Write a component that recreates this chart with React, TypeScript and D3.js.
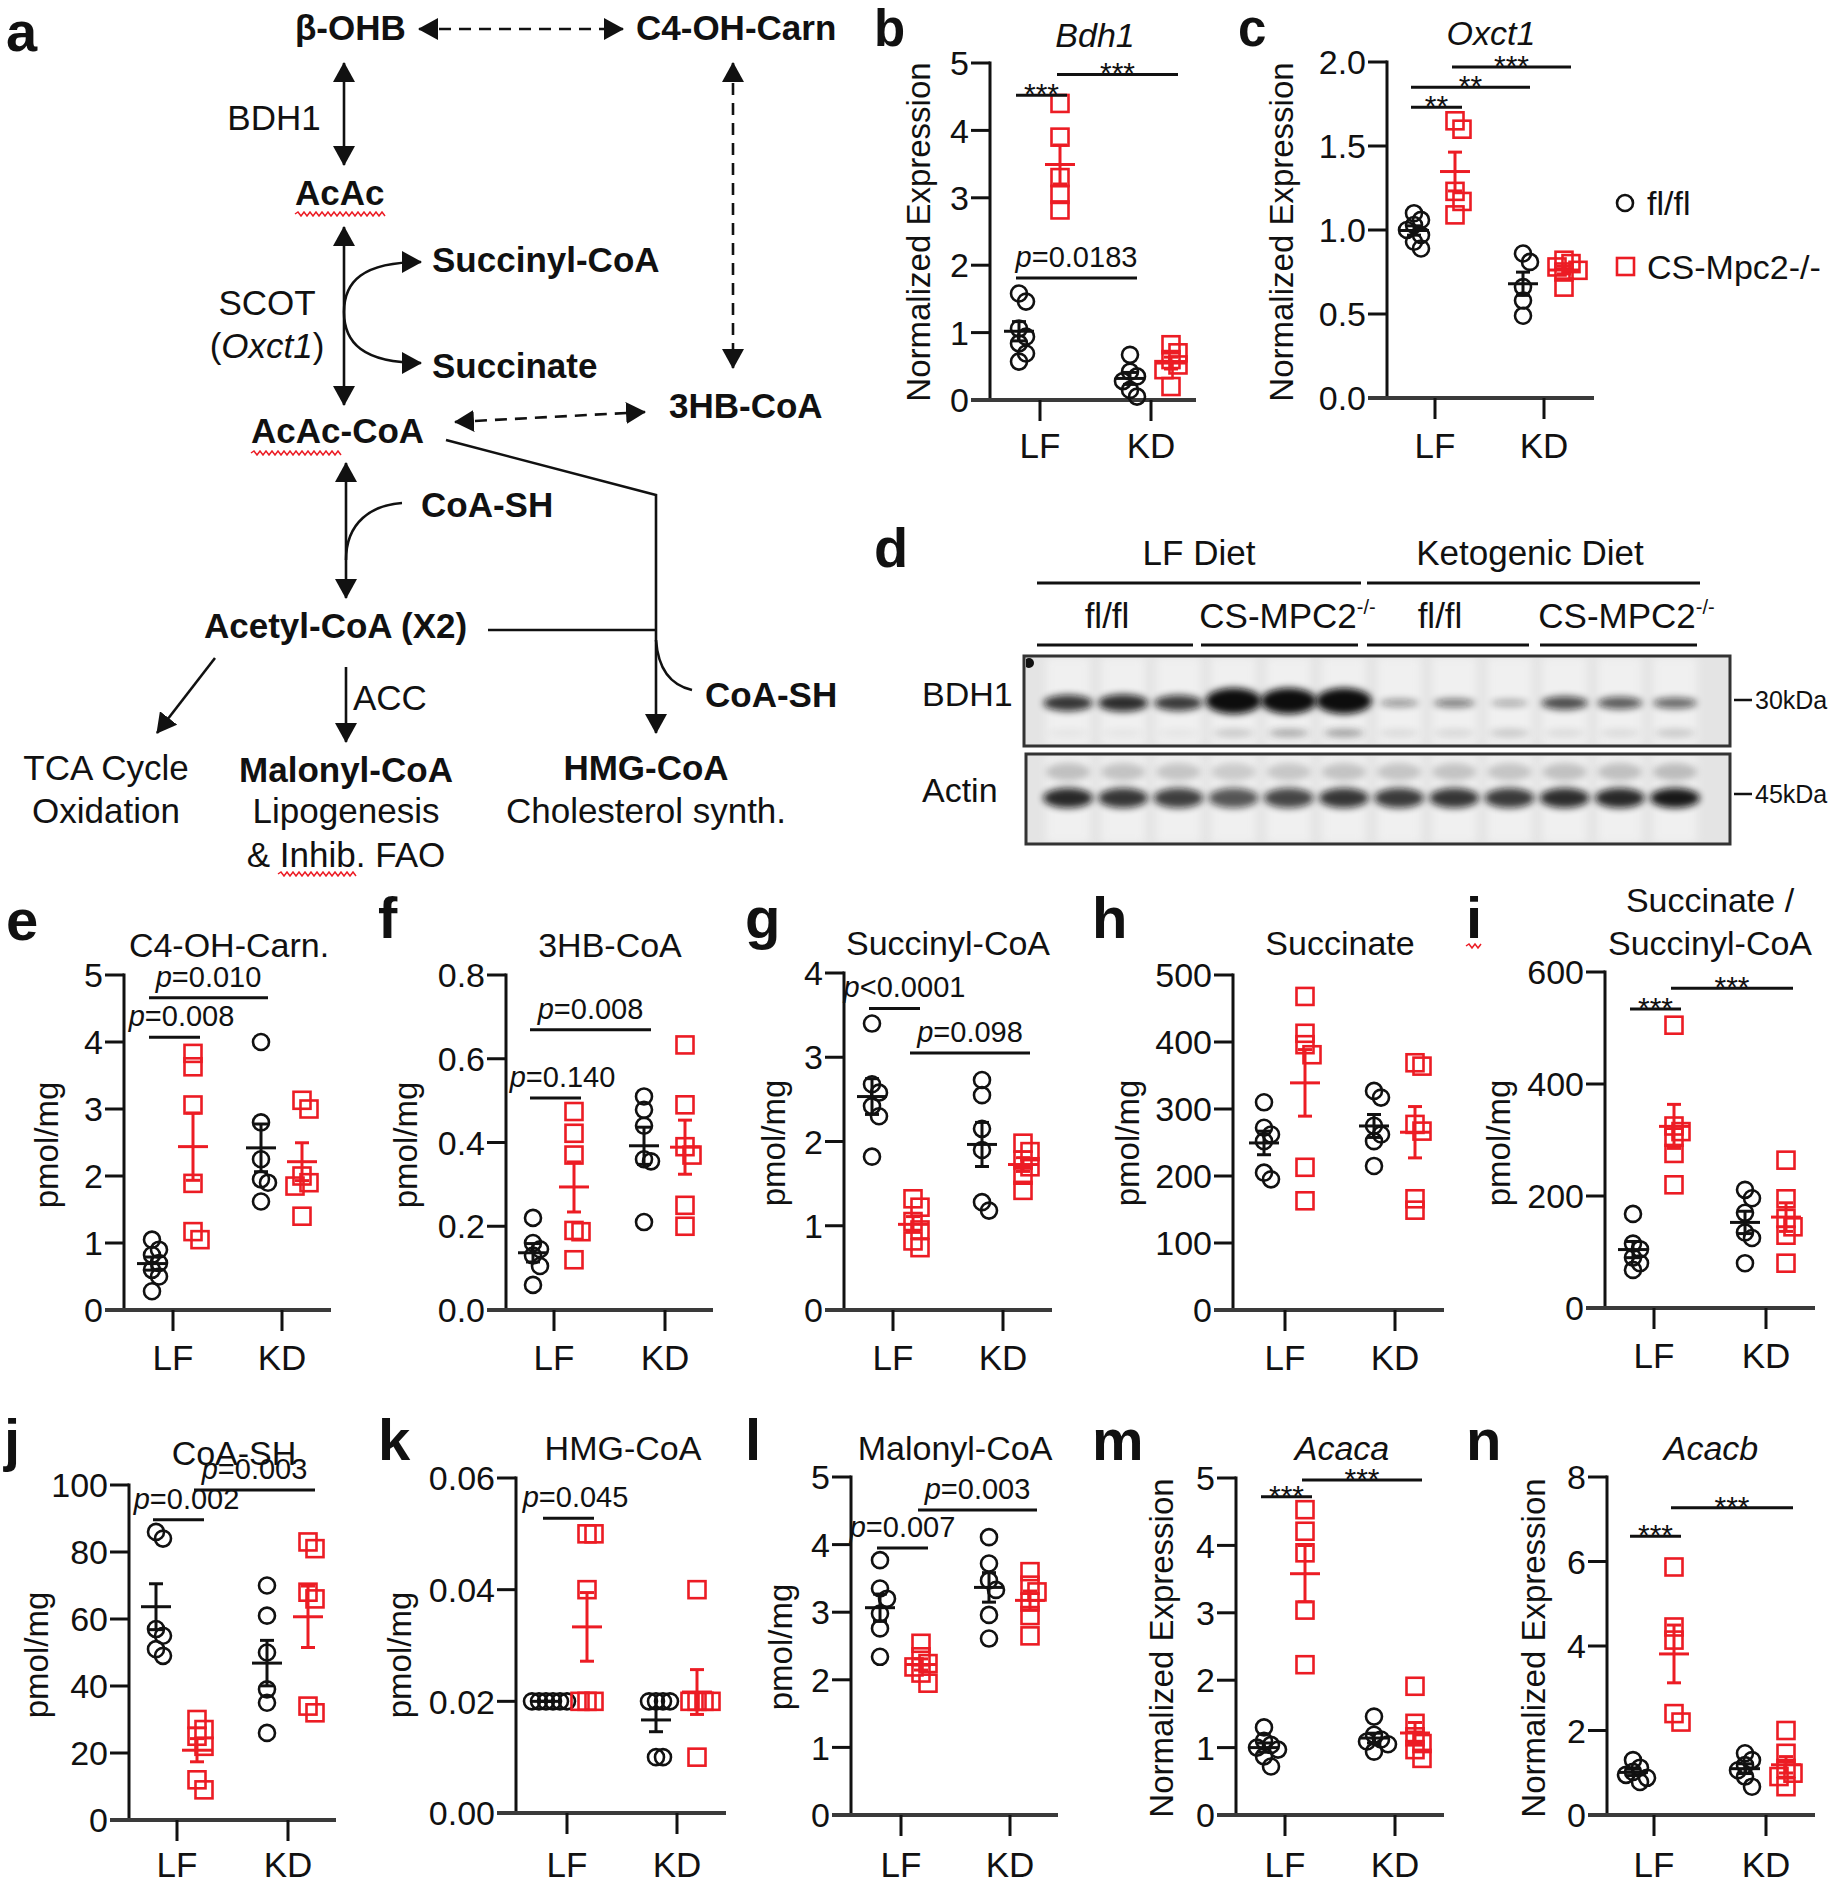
import React from 'react';
import * as d3 from 'd3';

const FONT = "'Liberation Sans', Arial, Helvetica, sans-serif";
const RED = '#ec1c24';
const INK = '#111111';

// ---------------- data ----------------
// group order in every panel: fl/fl LF, CS-Mpc2-/- LF, fl/fl KD, CS-Mpc2-/- KD
const xCategories = ['LF', 'KD'];
const legendLabels = ['fl/fl', 'CS-Mpc2-/-'];

const bdh1 = [[1.58, 1.46, 1.06, 0.94, 0.84, 0.69, 0.57], [4.4, 3.9, 3.3, 3.05, 2.82], [0.67, 0.42, 0.35, 0.28, 0.15, 0.05], [0.82, 0.7, 0.6, 0.52, 0.45, 0.2]];
const oxct1 = [[1.1, 1.06, 1.03, 1.0, 0.97, 0.93, 0.89], [1.65, 1.6, 1.23, 1.17, 1.09], [0.86, 0.81, 0.66, 0.58, 0.49], [0.82, 0.8, 0.78, 0.76, 0.75, 0.66]];
const c4ohCarn = [[1.05, 0.9, 0.82, 0.7, 0.6, 0.5, 0.28], [3.83, 3.63, 3.06, 1.89, 1.17, 1.05], [4.0, 2.8, 2.25, 1.95, 1.9, 1.62], [3.13, 3.0, 2.0, 1.9, 1.85, 1.4]];
const hb3CoA = [[0.22, 0.16, 0.145, 0.13, 0.105, 0.06], [0.474, 0.422, 0.37, 0.19, 0.187, 0.12], [0.51, 0.478, 0.44, 0.36, 0.355, 0.21], [0.633, 0.49, 0.39, 0.37, 0.25, 0.2]];
const succinylCoA = [[3.4, 2.68, 2.58, 2.42, 2.3, 1.82], [1.32, 1.22, 1.05, 0.95, 0.82, 0.74], [2.73, 2.55, 2.15, 1.9, 1.28, 1.18], [1.98, 1.88, 1.78, 1.7, 1.6, 1.42]];
const succinate = [[310, 272, 262, 252, 205, 195], [468, 413, 396, 381, 213, 163], [327, 317, 275, 262, 252, 215], [369, 364, 277, 267, 166, 149]];
const succRatio = [[168, 115, 105, 90, 80, 68], [505, 325, 315, 305, 276, 220], [211, 196, 170, 135, 125, 80], [264, 195, 160, 145, 130, 80]];
const coaSH = [[86, 84, 57, 55, 51, 49], [30, 27, 25, 22, 12, 9], [70, 61, 50, 39, 35, 26], [83, 81, 68, 66, 34, 32]];
const hmgCoA = [[0.02, 0.02, 0.02, 0.02, 0.02, 0.02], [0.05, 0.05, 0.04, 0.02, 0.02, 0.02], [0.02, 0.02, 0.02, 0.02, 0.01, 0.01], [0.04, 0.02, 0.02, 0.02, 0.02, 0.01]];
const malonylCoA = [[3.77, 3.35, 3.2, 2.98, 2.76, 2.34], [2.54, 2.34, 2.24, 2.19, 2.1, 1.95], [4.11, 3.72, 3.47, 3.33, 2.96, 2.61], [3.6, 3.4, 3.3, 3.15, 2.95, 2.65]];
const acaca = [[1.3, 1.1, 1.04, 1.0, 0.97, 0.87, 0.72], [4.53, 4.21, 3.89, 3.04, 2.23], [1.46, 1.19, 1.12, 1.09, 1.05, 0.94], [1.91, 1.36, 1.16, 1.06, 0.97, 0.84]];
const acacb = [[1.3, 1.12, 1.02, 0.95, 0.88, 0.78], [5.87, 4.45, 4.14, 2.4, 2.2], [1.46, 1.3, 1.18, 1.06, 0.91, 0.67], [2.0, 1.46, 1.1, 0.99, 0.91, 0.67]];

const ticks5 = [0, 1, 2, 3, 4, 5];
const ticks2 = [0, 0.5, 1.0, 1.5, 2.0];
const ticks08 = [0, 0.2, 0.4, 0.6, 0.8];
const ticks4 = [0, 1, 2, 3, 4];
const ticks500 = [0, 100, 200, 300, 400, 500];
const ticks600 = [0, 200, 400, 600];
const ticks100 = [0, 20, 40, 60, 80, 100];
const ticks006 = [0, 0.02, 0.04, 0.06];
const ticks8 = [0, 2, 4, 6, 8];

// western blot band intensities (12 lanes)
const blotLaneGroups = ['fl/fl', 'CS-MPC2', 'fl/fl', 'CS-MPC2'];
const bdh1Band = [0.72, 0.76, 0.7, 1.0, 1.0, 1.0, 0.3, 0.4, 0.22, 0.62, 0.56, 0.5];
const bdh1Lower = [0.05, 0.05, 0.05, 0.2, 0.35, 0.4, 0.1, 0.12, 0.2, 0.1, 0.1, 0.2];
const actinBand = [0.88, 0.82, 0.78, 0.68, 0.75, 0.82, 0.8, 0.82, 0.8, 0.86, 0.88, 0.95];

// ---------------- helpers ----------------
type Sig = { from: number; to: number; v: number; label: string; dx?: number };
type PanelCfg = {
  letter: string; letterX: number; letterY: number; letterSize?: number;
  title: string[]; italic?: boolean; titleX: number; titleY: number[];
  ylabel: string; ylabelX: number; ylabelY: number;
  axisX: number; y0: number; yTop: number; max: number; ticks: number[]; fmt: string;
  lfX: number; kdX: number; xEnd: number; labelY: number;
  data: number[][]; sigs: Sig[]; squiggleLetter?: boolean;
};

function squiggle(x1: number, x2: number, y: number) {
  let d = `M${x1},${y}`;
  let up = true;
  for (let x = x1 + 3; x <= x2; x += 3) {
    d += ` L${x},${up ? y - 2 : y + 2}`;
    up = !up;
  }
  return d;
}

function dodge(vals: number[], sc: (v: number) => number) {
  const placed: { y: number; o: number }[] = [];
  const step = 7;
  const cands = [0, step, -step, 2 * step, -2 * step, 3 * step, -3 * step];
  return vals.map((v) => {
    const y = sc(v);
    let off = 0;
    for (const c of cands) {
      if (placed.every((p) => Math.abs(p.y - y) >= 11 || Math.abs(p.o - c) >= step)) { off = c; break; }
    }
    placed.push({ y, o: off });
    return { y, off };
  });
}

function PText({ label }: { label: string }) {
  if (label.startsWith('p')) {
    return (<><tspan fontStyle="italic">p</tspan>{label.slice(1)}</>);
  }
  return <>{label}</>;
}

function ScatterPanel({ cfg }: { cfg: PanelCfg }) {
  const y = d3.scaleLinear().domain([0, cfg.max]).range([cfg.y0, cfg.yTop]);
  const gx = [cfg.lfX - 21, cfg.lfX + 20, cfg.kdX - 21, cfg.kdX + 20];
  const fmt = d3.format(cfg.fmt);
  const colors = [INK, RED, INK, RED];
  return (
    <g fontFamily={FONT}>
      <text x={cfg.letterX} y={cfg.letterY} fontSize={cfg.letterSize || 58} fontWeight="bold" fill={INK}>{cfg.letter}</text>
      {cfg.squiggleLetter && <path d={squiggle(cfg.letterX, cfg.letterX + 16, cfg.letterY + 8)} stroke={RED} strokeWidth={1.5} fill="none" />}
      {cfg.title.map((t, i) => (
        <text key={i} x={cfg.titleX} y={cfg.titleY[i]} fontSize={34} textAnchor="middle" fontStyle={cfg.italic ? 'italic' : 'normal'} fill={INK}>{t}</text>
      ))}
      <text transform={`translate(${cfg.ylabelX},${cfg.ylabelY}) rotate(-90)`} dy="0.35em" fontSize={33} textAnchor="middle" fill={INK}>{cfg.ylabel}</text>
      {/* y axis */}
      <line x1={cfg.axisX} x2={cfg.axisX} y1={cfg.y0} y2={cfg.yTop - 1.5} stroke={INK} strokeWidth={3} />
      {cfg.ticks.map((t) => (
        <g key={t}>
          <line x1={cfg.axisX - 19} x2={cfg.axisX} y1={y(t)} y2={y(t)} stroke={t === 0 ? '#444' : INK} strokeWidth={3} />
          <text x={cfg.axisX - 21} y={y(t)} dy="0.36em" fontSize={34} textAnchor="end" fill={INK}>{fmt(t)}</text>
        </g>
      ))}
      {/* x axis */}
      <line x1={cfg.axisX - 19} x2={cfg.xEnd} y1={cfg.y0} y2={cfg.y0} stroke="#3a3a3a" strokeWidth={4} />
      {[cfg.lfX, cfg.kdX].map((xx, i) => (
        <g key={i}>
          <line x1={xx} x2={xx} y1={cfg.y0} y2={cfg.y0 + 21} stroke={INK} strokeWidth={3} />
          <text x={xx} y={cfg.labelY} fontSize={35} textAnchor="middle" fill={INK}>{xCategories[i]}</text>
        </g>
      ))}
      {/* points */}
      {cfg.data.map((vals, gi) => {
        const pts = dodge(vals, y);
        return (
          <g key={gi}>
            {pts.map((p, k) => gi % 2 === 0
              ? <circle key={k} cx={gx[gi] + p.off} cy={p.y} r={8} fill="none" stroke={colors[gi]} strokeWidth={2.6} />
              : <rect key={k} x={gx[gi] + p.off - 8.5} y={p.y - 8.5} width={17} height={17} fill="none" stroke={colors[gi]} strokeWidth={2.6} />)}
          </g>
        );
      })}
      {/* mean +- SEM */}
      {cfg.data.map((vals, gi) => {
        const m = d3.mean(vals) as number;
        const sem = (d3.deviation(vals) as number) / Math.sqrt(vals.length);
        const cx = gx[gi];
        return (
          <g key={'m' + gi} stroke={colors[gi]} strokeWidth={3}>
            <line x1={cx - 15} x2={cx + 15} y1={y(m)} y2={y(m)} />
            <line x1={cx} x2={cx} y1={y(m - sem)} y2={y(m + sem)} />
            <line x1={cx - 7} x2={cx + 7} y1={y(m - sem)} y2={y(m - sem)} />
            <line x1={cx - 7} x2={cx + 7} y1={y(m + sem)} y2={y(m + sem)} />
          </g>
        );
      })}
      {/* significance */}
      {cfg.sigs.map((s, i) => {
        const x1 = gx[s.from] - 3;
        const x2 = gx[s.to] + 7;
        const ly = y(s.v);
        const star = !s.label.startsWith('p');
        return (
          <g key={'s' + i}>
            <line x1={x1} x2={x2} y1={ly} y2={ly} stroke={INK} strokeWidth={3} />
            <text x={(x1 + x2) / 2 + (s.dx || 0)} y={star ? ly + 9 : ly - 11} fontSize={star ? 30 : 29} textAnchor="middle" fill={INK}>
              <PText label={s.label} />
            </text>
          </g>
        );
      })}
    </g>
  );
}

const panels: PanelCfg[] = [
  { letter: 'b', letterX: 874, letterY: 46, letterSize: 51, title: ['Bdh1'], italic: true, titleX: 1095, titleY: [47], ylabel: 'Normalized Expression', ylabelX: 918, ylabelY: 232,
    axisX: 990, y0: 400, yTop: 63, max: 5, ticks: ticks5, fmt: 'd', lfX: 1040, kdX: 1151, xEnd: 1196, labelY: 458, data: bdh1,
    sigs: [{ from: 0, to: 1, v: 4.52, label: '***' }, { from: 1, to: 3, v: 4.83, label: '***' }, { from: 0, to: 2, v: 1.81, label: 'p=0.0183' }] },
  { letter: 'c', letterX: 1238, letterY: 46, letterSize: 51, title: ['Oxct1'], italic: true, titleX: 1491, titleY: [45], ylabel: 'Normalized Expression', ylabelX: 1281, ylabelY: 232,
    axisX: 1387, y0: 398, yTop: 62, max: 2, ticks: ticks2, fmt: '.1f', lfX: 1435, kdX: 1544, xEnd: 1594, labelY: 458, data: oxct1,
    sigs: [{ from: 0, to: 1, v: 1.73, label: '**' }, { from: 0, to: 2, v: 1.85, label: '**' }, { from: 1, to: 3, v: 1.97, label: '***' }] },
  { letter: 'e', letterX: 6, letterY: 940, title: ['C4-OH-Carn.'], titleX: 229, titleY: [957], ylabel: 'pmol/mg', ylabelX: 46, ylabelY: 1145,
    axisX: 124, y0: 1310, yTop: 975, max: 5, ticks: ticks5, fmt: 'd', lfX: 173, kdX: 282, xEnd: 331, labelY: 1370, data: c4ohCarn,
    sigs: [{ from: 0, to: 1, v: 4.07, label: 'p=0.008', dx: 7 }, { from: 0, to: 2, v: 4.66, label: 'p=0.010' }] },
  { letter: 'f', letterX: 378, letterY: 938, title: ['3HB-CoA'], titleX: 610, titleY: [957], ylabel: 'pmol/mg', ylabelX: 405, ylabelY: 1145,
    axisX: 506, y0: 1310, yTop: 975, max: 0.8, ticks: ticks08, fmt: '.1f', lfX: 554, kdX: 665, xEnd: 713, labelY: 1370, data: hb3CoA,
    sigs: [{ from: 0, to: 1, v: 0.506, label: 'p=0.140', dx: 7 }, { from: 0, to: 2, v: 0.669, label: 'p=0.008' }] },
  { letter: 'g', letterX: 745, letterY: 938, title: ['Succinyl-CoA'], titleX: 948, titleY: [955], ylabel: 'pmol/mg', ylabelX: 773, ylabelY: 1143,
    axisX: 844, y0: 1310, yTop: 973, max: 4, ticks: ticks4, fmt: 'd', lfX: 893, kdX: 1003, xEnd: 1052, labelY: 1370, data: succinylCoA,
    sigs: [{ from: 0, to: 1, v: 3.58, label: 'p<0.0001', dx: 10 }, { from: 1, to: 3, v: 3.05, label: 'p=0.098' }] },
  { letter: 'h', letterX: 1092, letterY: 938, title: ['Succinate'], titleX: 1340, titleY: [955], ylabel: 'pmol/mg', ylabelX: 1127, ylabelY: 1143,
    axisX: 1233, y0: 1310, yTop: 975, max: 500, ticks: ticks500, fmt: 'd', lfX: 1285, kdX: 1395, xEnd: 1444, labelY: 1370, data: succinate,
    sigs: [] },
  { letter: 'i', letterX: 1466, letterY: 938, squiggleLetter: true, title: ['Succinate /', 'Succinyl-CoA'], titleX: 1710, titleY: [912, 955], ylabel: 'pmol/mg', ylabelX: 1498, ylabelY: 1143,
    axisX: 1605, y0: 1308, yTop: 972, max: 600, ticks: ticks600, fmt: 'd', lfX: 1654, kdX: 1766, xEnd: 1815, labelY: 1368, data: succRatio,
    sigs: [{ from: 0, to: 1, v: 534, label: '***' }, { from: 1, to: 3, v: 571, label: '***' }] },
  { letter: 'j', letterX: 4, letterY: 1460, title: ['CoA-SH'], titleX: 234, titleY: [1465], ylabel: 'pmol/mg', ylabelX: 36, ylabelY: 1655,
    axisX: 129, y0: 1820, yTop: 1485, max: 100, ticks: ticks100, fmt: 'd', lfX: 177, kdX: 288, xEnd: 336, labelY: 1877, data: coaSH,
    sigs: [{ from: 0, to: 1, v: 89.6, label: 'p=0.002', dx: 8 }, { from: 1, to: 3, v: 98.5, label: 'p=0.003' }] },
  { letter: 'k', letterX: 378, letterY: 1460, title: ['HMG-CoA'], titleX: 623, titleY: [1460], ylabel: 'pmol/mg', ylabelX: 399, ylabelY: 1655,
    axisX: 516, y0: 1813, yTop: 1478, max: 0.06, ticks: ticks006, fmt: '.2f', lfX: 567, kdX: 677, xEnd: 726, labelY: 1877, data: hmgCoA,
    sigs: [{ from: 0, to: 1, v: 0.0528, label: 'p=0.045', dx: 7 }] },
  { letter: 'l', letterX: 745, letterY: 1460, title: ['Malonyl-CoA'], titleX: 955, titleY: [1460], ylabel: 'pmol/mg', ylabelX: 780, ylabelY: 1647,
    axisX: 851, y0: 1815, yTop: 1477, max: 5, ticks: ticks5, fmt: 'd', lfX: 901, kdX: 1010, xEnd: 1058, labelY: 1877, data: malonylCoA,
    sigs: [{ from: 0, to: 1, v: 3.95, label: 'p=0.007' }, { from: 1, to: 3, v: 4.51, label: 'p=0.003' }] },
  { letter: 'm', letterX: 1092, letterY: 1460, title: ['Acaca'], italic: true, titleX: 1342, titleY: [1460], ylabel: 'Normalized Expression', ylabelX: 1161, ylabelY: 1648,
    axisX: 1236, y0: 1815, yTop: 1478, max: 5, ticks: ticks5, fmt: 'd', lfX: 1285, kdX: 1395, xEnd: 1444, labelY: 1877, data: acaca,
    sigs: [{ from: 0, to: 1, v: 4.72, label: '***' }, { from: 1, to: 3, v: 4.97, label: '***' }] },
  { letter: 'n', letterX: 1466, letterY: 1460, title: ['Acacb'], italic: true, titleX: 1711, titleY: [1460], ylabel: 'Normalized Expression', ylabelX: 1533, ylabelY: 1648,
    axisX: 1607, y0: 1815, yTop: 1477, max: 8, ticks: ticks8, fmt: 'd', lfX: 1654, kdX: 1766, xEnd: 1815, labelY: 1877, data: acacb,
    sigs: [{ from: 0, to: 1, v: 6.6, label: '***' }, { from: 1, to: 3, v: 7.27, label: '***' }] },
];

// ---------------- panel a ----------------
type Lab = { t: string; x: number; y: number; b?: boolean; a?: 'start' | 'middle' };
const diagramLabels: Lab[] = [
  { t: 'β-OHB', x: 295, y: 40, b: true },
  { t: 'C4-OH-Carn', x: 636, y: 40, b: true },
  { t: 'BDH1', x: 274, y: 130, a: 'middle' },
  { t: 'AcAc', x: 295, y: 205, b: true },
  { t: 'Succinyl-CoA', x: 432, y: 272, b: true },
  { t: 'SCOT', x: 267, y: 315, a: 'middle' },
  { t: 'Succinate', x: 432, y: 378, b: true },
  { t: '3HB-CoA', x: 669, y: 418, b: true },
  { t: 'AcAc-CoA', x: 251, y: 443, b: true },
  { t: 'CoA-SH', x: 421, y: 517, b: true },
  { t: 'Acetyl-CoA (X2)', x: 204, y: 638, b: true },
  { t: 'CoA-SH', x: 705, y: 707, b: true },
  { t: 'ACC', x: 353, y: 710 },
  { t: 'TCA Cycle', x: 106, y: 780, a: 'middle' },
  { t: 'Oxidation', x: 106, y: 823, a: 'middle' },
  { t: 'Malonyl-CoA', x: 346, y: 782, b: true, a: 'middle' },
  { t: 'Lipogenesis', x: 346, y: 823, a: 'middle' },
  { t: '& Inhib. FAO', x: 346, y: 867, a: 'middle' },
  { t: 'HMG-CoA', x: 646, y: 780, b: true, a: 'middle' },
  { t: 'Cholesterol synth.', x: 646, y: 823, a: 'middle' },
];

type Arr = { d: string; dash?: boolean; start?: boolean; end?: boolean };
const diagramArrows: Arr[] = [
  { d: 'M419,29 L623,29', dash: true, start: true, end: true },
  { d: 'M344,63 L344,165', start: true, end: true },
  { d: 'M344,227 L344,405', start: true, end: true },
  { d: 'M344,312 C344,282 362,262 421,262', end: true },
  { d: 'M344,312 C344,342 362,363 421,363', end: true },
  { d: 'M733,63 L733,368', dash: true, start: true, end: true },
  { d: 'M455,422 L645,412', dash: true, start: true, end: true },
  { d: 'M446,440 L656,495 L656,733', end: true },
  { d: 'M346,463 L346,598', start: true, end: true },
  { d: 'M402,503 C372,505 346,522 346,560' },
  { d: 'M488,630 L656,630' },
  { d: 'M656,640 C658,668 670,685 692,690' },
  { d: 'M215,658 L157,733', end: true },
  { d: 'M346,667 L346,742', end: true },
];

function PanelA() {
  return (
    <g fontFamily={FONT} fill={INK}>
      <text x={6} y={51} fontSize={56} fontWeight="bold">a</text>
      {diagramLabels.map((l, i) => (
        <text key={i} x={l.x} y={l.y} fontSize={35} fontWeight={l.b ? 'bold' : 'normal'} textAnchor={l.a || 'start'}>{l.t}</text>
      ))}
      <text x={267} y={358} fontSize={35} textAnchor="middle">(<tspan fontStyle="italic">Oxct1</tspan>)</text>
      {diagramArrows.map((a, i) => (
        <path key={i} d={a.d} fill="none" stroke={INK} strokeWidth={2.6} strokeDasharray={a.dash ? '12 8' : undefined}
          markerStart={a.start ? 'url(#ah)' : undefined} markerEnd={a.end ? 'url(#ah)' : undefined} />
      ))}
      <path d={squiggle(295, 386, 214)} stroke={RED} strokeWidth={1.5} fill="none" />
      <path d={squiggle(251, 342, 453)} stroke={RED} strokeWidth={1.5} fill="none" />
      <path d={squiggle(278, 358, 874)} stroke={RED} strokeWidth={1.5} fill="none" />
    </g>
  );
}

// ---------------- panel d (blot) ----------------
function PanelD() {
  const lane = d3.scalePoint<number>().domain(d3.range(12)).range([1068, 1675]);
  return (
    <g fontFamily={FONT} fill={INK}>
      <text x={874} y={567} fontSize={56} fontWeight="bold">d</text>
      <text x={1199} y={565} fontSize={35} textAnchor="middle">LF Diet</text>
      <text x={1530} y={565} fontSize={35} textAnchor="middle">Ketogenic Diet</text>
      <line x1={1037} x2={1361} y1={583} y2={583} stroke={INK} strokeWidth={3} />
      <line x1={1367} x2={1700} y1={583} y2={583} stroke={INK} strokeWidth={3} />
      {[[1037, 1193], [1201, 1358], [1367, 1529], [1540, 1697]].map(([a, b], i) => {
        const cx = (a + b) / 2 + (i % 2 === 1 ? 8 : -8);
        return (
          <g key={i}>
            <line x1={a} x2={b} y1={645} y2={645} stroke={INK} strokeWidth={3} />
            <text x={cx} y={628} fontSize={35} textAnchor="middle">
              {blotLaneGroups[i] === 'fl/fl' ? 'fl/fl' : <>CS-MPC2<tspan fontSize={20} dy={-14}>-/-</tspan></>}
            </text>
          </g>
        );
      })}
      <text x={922} y={706} fontSize={34}>BDH1</text>
      <text x={922} y={802} fontSize={34}>Actin</text>
      {/* boxes */}
      <rect x={1024} y={656} width={706} height={90} fill="#e4e4e4" stroke="#333" strokeWidth={3} />
      <rect x={1026} y={754} width={704} height={90} fill="#e4e4e4" stroke="#333" strokeWidth={3} />
      <g clipPath="url(#clipB)">
        {d3.range(12).map((i) => (
          <rect key={'lb' + i} x={lane(i)! - 22} y={657} width={44} height={88} fill="#f0f0f0" filter="url(#blurL)" />
        ))}
        {bdh1Band.map((v, i) => (
          <ellipse key={'b' + i} cx={lane(i)!} cy={703 - (v > 0.9 ? 2 : 0)} rx={16 + 12 * v} ry={3 + 10 * v * v} fill="#0a0a0a" opacity={Math.min(1, v + 0.1)} filter="url(#blurB)" />
        ))}
        {bdh1Lower.map((v, i) => (
          <ellipse key={'bl' + i} cx={lane(i)!} cy={733} rx={20} ry={4} fill="#222" opacity={v} filter="url(#blurB)" />
        ))}
        <circle cx={1029} cy={663} r={5} fill="#111" />
      </g>
      <g clipPath="url(#clipA)">
        {d3.range(12).map((i) => (
          <rect key={'la' + i} x={lane(i)! - 22} y={755} width={44} height={88} fill="#f0f0f0" filter="url(#blurL)" />
        ))}
        {actinBand.map((v, i) => (
          <g key={'a' + i}>
            <ellipse cx={lane(i)!} cy={772} rx={22} ry={9} fill="#555" opacity={v * 0.35} filter="url(#blurB)" />
            <ellipse cx={lane(i)!} cy={798} rx={25} ry={10} fill="#0a0a0a" opacity={v} filter="url(#blurB)" />
          </g>
        ))}
      </g>
      <line x1={1734} x2={1752} y1={700} y2={700} stroke={INK} strokeWidth={2.5} />
      <text x={1755} y={709} fontSize={25}>30kDa</text>
      <line x1={1734} x2={1752} y1={794} y2={794} stroke={INK} strokeWidth={2.5} />
      <text x={1755} y={803} fontSize={25}>45kDa</text>
    </g>
  );
}

function Legend() {
  return (
    <g fontFamily={FONT} fill={INK}>
      <circle cx={1625} cy={203} r={8} fill="none" stroke={INK} strokeWidth={2.6} />
      <text x={1647} y={215} fontSize={34}>{legendLabels[0]}</text>
      <rect x={1617} y={258} width={17} height={17} fill="none" stroke={RED} strokeWidth={2.6} />
      <text x={1647} y={279} fontSize={34}>{legendLabels[1]}</text>
    </g>
  );
}

export default function App() {
  return (
    <svg width={1833} height={1884} viewBox="0 0 1833 1884" style={{ position: 'absolute', left: 0, top: 0, background: '#fff' }}>
      <defs>
        <marker id="ah" viewBox="0 0 20 22" refX={19} refY={11} markerWidth={20} markerHeight={22} markerUnits="userSpaceOnUse" orient="auto-start-reverse">
          <path d="M0,0 L20,11 L0,22 z" fill={INK} />
        </marker>
        <filter id="blurB" x="-50%" y="-100%" width="200%" height="300%"><feGaussianBlur stdDeviation={3.5} /></filter>
        <filter id="blurL" x="-50%" y="-10%" width="200%" height="120%"><feGaussianBlur stdDeviation={4} /></filter>
        <clipPath id="clipB"><rect x={1026} y={658} width={702} height={86} /></clipPath>
        <clipPath id="clipA"><rect x={1028} y={756} width={700} height={86} /></clipPath>
      </defs>
      <rect x={0} y={0} width={1833} height={1884} fill="#fff" />
      <PanelA />
      <PanelD />
      <Legend />
      {panels.map((p) => <ScatterPanel key={p.letter} cfg={p} />)}
    </svg>
  );
}
